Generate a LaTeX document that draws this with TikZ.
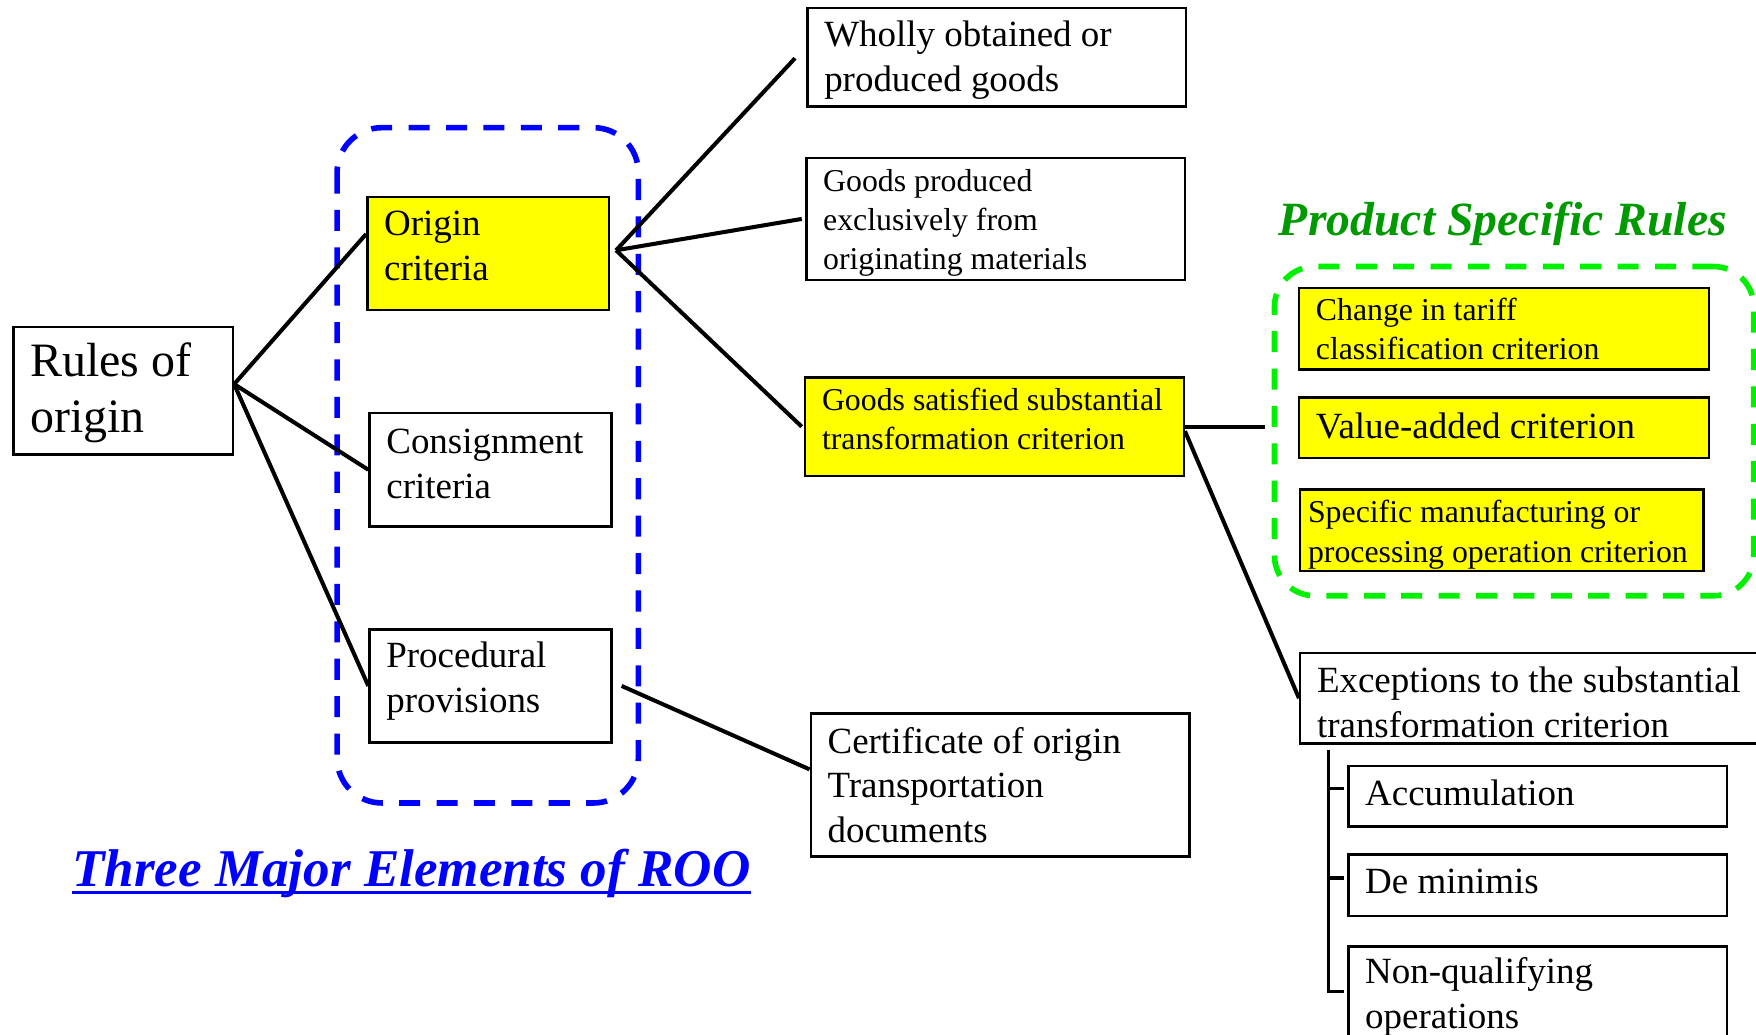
\documentclass[tikz,border=0pt]{standalone}
\usepackage{fontspec}
\setmainfont{Liberation Serif}
\definecolor{psrgreen}{RGB}{0,153,0}
\definecolor{dashgreen}{RGB}{0,240,0}
\definecolor{hiyellow}{RGB}{255,255,0}
\definecolor{roblue}{RGB}{0,0,255}
\newcommand{\vadj}[1]{\endgraf\vskip #1\relax\nointerlineskip\hbox{}}
\begin{document}
\begin{tikzpicture}[x=0.5pt,y=-0.5pt,
  box/.style={draw=black, line width=1.1pt, inner xsep=7.5pt, inner ysep=0pt, align=flush left, anchor=center},
  hl/.style={box, fill=hiyellow},
  sz/.style 2 args={minimum width=#1, minimum height=#2, text width=\dimexpr #1-15pt\relax},
  fM/.style={font=\fontsize{16.5pt}{20pt}\selectfont},
  fS/.style={font=\fontsize{14.2pt}{17.5pt}\selectfont},
  fL/.style={font=\fontsize{21.4pt}{25pt}\selectfont},
  conn/.style={draw=black, line width=1.8pt},
  brk/.style={draw=black, line width=1.4pt},
  bluedash/.style={draw=roblue, line width=2.5pt, dash pattern=on 9.4pt off 7.3pt, rounded corners=20pt},
  greendash/.style={draw=dashgreen, line width=2.5pt, dash pattern=on 9.4pt off 7.3pt, rounded corners=18pt}
]
\clip (0,0) rectangle (1568,924);
\useasboundingbox (0,0) rectangle (1568,924);

% blue group
\draw[bluedash] (301,114) rectangle (570,717);

% left column
\node[box, fL, sz={98pt}{57pt}] (R) at (110,349) {Rules of\\origin\vadj{-2pt}};
\node[hl, fM, sz={108pt}{50.5pt}] (O) at (436,226.5) {Origin\\criteria\vadj{7pt}};
\node[box, fM, sz={108pt}{50.5pt}] (C) at (438,419.5) {Consignment\\criteria\vadj{5pt}};
\node[box, fM, sz={108pt}{50.5pt}] (P) at (438,612.5) {Procedural\\provisions\vadj{4pt}};

% middle column
\node[box, fM, sz={169pt}{44pt}] (W) at (890,51) {Wholly obtained or\\produced goods\vadj{-3pt}};
\node[box, fS, sz={169pt}{54.5pt}] (G1) at (889,195.5) {Goods produced\\exclusively from\\originating materials\vadj{-3.5pt}};
\node[hl, fS, sz={169pt}{44pt}] (G2) at (888,381) {Goods satisfied substantial\\transformation criterion\vadj{7pt}};
\node[box, fM, sz={169pt}{64pt}] (Cert) at (893,701) {Certificate of origin\\Transportation\\documents};

% product specific rules
\node[anchor=base, text=psrgreen, inner sep=0pt, font=\fontsize{21.3pt}{25pt}\selectfont\bfseries\itshape] (PT) at (1342,210) {Product Specific Rules};
\node[greendash, minimum width=214pt, minimum height=147pt, inner sep=0pt] (PSR) at (1352,385) {};
\node[hl, fS, sz={183pt}{36.5pt}] (CT) at (1343,293.5) {Change in tariff\\classification criterion};
\node[hl, fM, sz={183pt}{27pt}] (VA) at (1343,382) {Value-added criterion\vadj{2pt}};
\node[hl, fS, sz={180pt}{36.5pt}, inner xsep=3.5pt, text width=173pt] (SM) at (1341,473.5) {Specific manufacturing or\\processing operation criterion\vadj{-4pt}};

% exceptions
\node[box, fM, sz={214.5pt}{40.5pt}] (Exc) at (1375.5,623.5) {Exceptions to the substantial\\transformation criterion\vadj{-4pt}};
\node[box, fM, sz={169pt}{27pt}] (A) at (1373,711) {Accumulation\vadj{3pt}};
\node[box, fM, sz={169pt}{27.5pt}] (D) at (1373,790.5) {De minimis\vadj{3pt}};
\node[box, fM, sz={169pt}{45pt}] (NQ) at (1373,890) {Non-qualifying\\operations};

% title
\node[anchor=base west, text=roblue, inner sep=0pt, font=\fontsize{23.7pt}{28pt}\selectfont\bfseries\itshape] (RT) at (64,791.6) {Three Major Elements of ROO};
\draw[roblue, line width=1.35pt] ([yshift=-2.7pt]RT.base west) -- ([yshift=-2.7pt]RT.base east);

% connectors
\coordinate (Rj) at ([yshift=3pt]R.east);
\draw[conn] (Rj) -- ([yshift=8.75pt]O.west);
\draw[conn] (Rj) -- (C.west);
\draw[conn] (Rj) -- (P.west);
\coordinate (Oj) at ([xshift=2.5pt,yshift=1.5pt]O.east);
\draw[conn] (Oj) -- ([xshift=-5pt,yshift=-0.5pt]W.west);
\draw[conn] (Oj) -- ([xshift=-1.5pt]G1.west);
\draw[conn] (Oj) -- ([xshift=-1pt]G2.west);
\draw[conn] ([xshift=4pt]P.east) -- ([yshift=7pt]Cert.west);
\coordinate (Gr) at ([xshift=-3pt]PSR.west);
\draw[conn] (G2.east) -- (Gr |- G2.east);
\draw[conn] ([yshift=-2pt]G2.east) -- (Exc.west);

% bracket
\coordinate (Bt) at (1186,670);
\coordinate (At) at ([xshift=-1.5pt,yshift=3.5pt]A.west);
\coordinate (Dt) at ([xshift=-1.5pt,yshift=3.25pt]D.west);
\coordinate (Nt) at ([xshift=-1.5pt,yshift=2.5pt]NQ.west);
\draw[brk] (Bt) |- (Nt);
\draw[brk] (At -| Bt) -- (At);
\draw[brk] (Dt -| Bt) -- (Dt);
\end{tikzpicture}
\end{document}
